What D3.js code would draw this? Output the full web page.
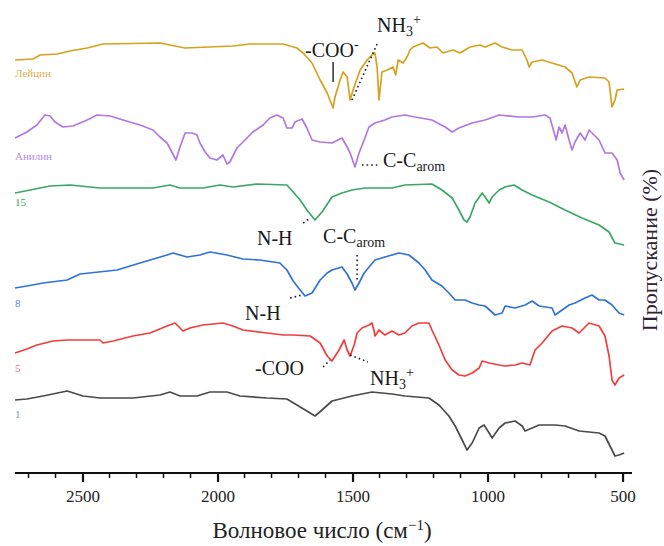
<!DOCTYPE html>
<html>
<head>
<meta charset="utf-8">
<script src="https://cdn.jsdelivr.net/npm/d3@7"></script>
<style>
  html, body { margin: 0; padding: 0; background: #fff; }
  svg { display: block; }
  svg text { font-family: "Liberation Serif", "DejaVu Serif", "Noto Serif", "Times New Roman", Times, serif; }
</style>
</head>
<body>
<svg id="chart" width="664" height="546"></svg>
<script>
// IR spectra, stacked with vertical offsets: [wavenumber (cm-1), transmittance (a.u., offset)]
const leucine = [
  [2750,413],[2683,414],[2657,418],[2594,419],[2546,422],[2483,425],[2424,429],[2213,430],
  [2139,426],[2120,425],[1943,427],[1880,429],[1757,429],[1706,425],[1683,420],[1650,410],
  [1620,393],[1594,380],[1572,365],[1565,376],[1546,393],[1535,401],[1520,396],[1509,373],
  [1498,383],[1472,403],[1446,413],[1428,418],[1417,420],[1409,406],[1402,373],[1391,401],
  [1372,403],[1350,406],[1340,398],[1331,413],[1313,410],[1298,416],[1287,423],[1276,426],
  [1239,430],[1213,425],[1187,426],[1165,420],[1128,423],[1102,420],[1065,426],[1028,428],
  [1009,426],[972,430],[946,426],[909,423],[872,423],[854,413],[846,406],[835,411],[798,413],
  [761,410],[713,406],[687,400],[669,386],[657,393],[624,396],[565,395],[550,391],[539,366],
  [528,373],[520,383],[494,384]
];
const aniline = [
  [2750,335],[2706,341],[2669,348],[2639,358],[2620,357],[2602,351],[2572,346],[2535,347],
  [2483,353],[2446,358],[2398,357],[2350,353],[2287,348],[2239,343],[2213,336],[2187,330],
  [2169,321],[2154,313],[2139,326],[2120,340],[2094,340],[2076,338],[2065,330],[2046,321],
  [2028,315],[2002,313],[1980,318],[1965,309],[1954,311],[1928,325],[1891,335],[1869,341],
  [1831,348],[1806,355],[1780,358],[1757,355],[1743,345],[1724,345],[1713,351],[1687,354],
  [1669,345],[1650,333],[1620,331],[1576,330],[1539,335],[1520,326],[1509,320],[1491,306],
  [1476,320],[1457,333],[1439,346],[1417,350],[1380,353],[1354,356],[1306,358],[1269,356],
  [1206,353],[1157,346],[1131,341],[1106,345],[1057,350],[1009,353],[957,358],[883,356],
  [835,356],[787,358],[769,355],[754,341],[746,333],[735,346],[724,340],[713,348],[698,333],
  [687,323],[676,331],[657,340],[639,333],[624,343],[613,340],[587,333],[565,320],[539,320],
  [520,313],[509,300],[494,293]
];
const sample15 = [
  [2750,280],[2694,283],[2620,287],[2546,288],[2435,285],[2239,285],[2176,288],[2139,285],
  [2054,285],[1991,288],[1943,286],[1854,289],[1743,288],[1720,281],[1694,273],[1669,263],
  [1639,253],[1613,261],[1576,276],[1539,280],[1502,283],[1454,285],[1354,285],[1306,288],
  [1206,289],[1169,283],[1131,275],[1106,263],[1087,253],[1076,251],[1065,256],[1046,270],
  [1020,280],[1009,276],[994,270],[983,276],[957,283],[935,286],[902,288],[872,283],[835,278],
  [772,271],[713,263],[650,255],[587,248],[550,241],[528,230],[494,228]
];
const sample8 = [
  [2750,185],[2706,187],[2646,190],[2557,193],[2509,199],[2372,203],[2287,210],[2187,218],
  [2165,220],[2113,216],[2065,218],[2028,221],[1965,218],[1906,214],[1843,213],[1769,210],
  [1743,203],[1720,192],[1694,183],[1676,177],[1650,180],[1620,193],[1594,200],[1576,203],
  [1539,206],[1520,199],[1502,190],[1491,183],[1476,190],[1457,200],[1417,213],[1380,216],
  [1328,220],[1291,218],[1254,210],[1231,203],[1206,193],[1169,187],[1143,180],[1120,173],
  [1083,173],[1057,170],[1031,168],[1009,167],[972,158],[946,160],[935,167],[898,165],
  [861,168],[835,172],[809,167],[761,165],[750,158],[724,163],[698,168],[676,170],[639,175],
  [613,178],[587,173],[565,173],[539,168],[513,160],[494,158]
];
const sample5 = [
  [2750,120],[2706,124],[2669,128],[2609,132],[2557,133],[2435,133],[2424,130],[2387,132],
  [2313,137],[2250,140],[2187,147],[2157,150],[2128,142],[2102,145],[2054,148],[1980,150],
  [1943,147],[1906,143],[1817,140],[1757,138],[1720,138],[1657,137],[1620,130],[1594,117],
  [1576,112],[1550,123],[1531,133],[1520,123],[1509,117],[1494,128],[1483,140],[1465,145],
  [1439,148],[1428,150],[1420,142],[1417,137],[1402,143],[1380,138],[1354,142],[1328,138],
  [1306,140],[1280,147],[1254,150],[1217,150],[1206,143],[1180,128],[1157,113],[1131,103],
  [1106,98],[1083,97],[1057,100],[1031,105],[1020,112],[994,110],[957,108],[935,107],
  [898,108],[872,110],[843,108],[824,123],[798,130],[761,142],[724,147],[687,145],[661,140],
  [624,150],[587,147],[565,137],[550,117],[539,93],[528,88],[513,95],[494,98]
];
const sample1 = [
  [2750,73],[2706,74],[2646,77],[2557,82],[2498,77],[2435,75],[2313,75],[2213,78],[2176,81],
  [2139,77],[2076,77],[2028,81],[1965,81],[1917,77],[1817,75],[1743,74],[1706,68],[1669,62],
  [1639,57],[1613,63],[1576,72],[1502,77],[1428,81],[1354,79],[1306,77],[1217,75],[1180,68],
  [1143,57],[1120,47],[1094,33],[1076,23],[1057,30],[1031,45],[1013,48],[994,40],[983,35],
  [957,45],[935,50],[898,52],[872,47],[861,42],[835,45],[809,48],[750,48],[713,47],[661,42],
  [587,40],[565,37],[539,23],[528,17],[513,18],[494,20]
];

const seriesNames = ["Лейцин", "Анилин", "15", "8", "5", "1"];
// where each series name sits: [wavenumber, value]
const seriesLabelPos = [[2750,396],[2750,313],[2750,267],[2750,166],[2750,101],[2750,55]];

const xMajorTicks = [2500, 2000, 1500, 1000, 500];
const xMinorTicks = [2700, 2600, 2400, 2300, 2200, 2100, 1900, 1800, 1700, 1600,
                     1400, 1300, 1200, 1100, 900, 800, 700, 600];

const xTitle = "Волновое число (см";
const yTitle = "Пропускание (%)";

// band assignments: text parts as [string, kind], kind: n = normal, sub, sup
const bandLabels = [
  { parts: [["-COO", "n"], ["-", "sup"]], at: [1676, 416] },
  { parts: [["NH", "n"], ["3", "sub"], ["+", "sup"]], at: [1409, 441] },
  { parts: [["C-C", "n"], ["arom", "sub"]], at: [1387, 306] },
  { parts: [["N-H", "n"]], at: [1854, 228] },
  { parts: [["C-C", "n"], ["arom", "sub"]], at: [1609, 230] },
  { parts: [["N-H", "n"]], at: [1898, 153] },
  { parts: [["-COO", "n"]], at: [1861, 98] },
  { parts: [["NH", "n"], ["3", "sub"], ["+", "sup"]], at: [1435, 88] }
];
// leader lines: [from, to, dotted?]
const leaders = [
  [[1572, 411], [1572, 391], false],
  [[1409, 429], [1502, 373], true],
  [[1465, 308], [1398, 308], true],
  [[1683, 250], [1661, 254], true],
  [[1483, 218], [1483, 193], true],
  [[1731, 175], [1687, 178], true],
  [[1609, 106], [1583, 113], true],
  [[1509, 118], [1443, 111], true]
];

const svg = d3.select("#chart");

const x = d3.scaleLinear().domain([2750, 465]).range([15, 632]);
const y = d3.scaleLinear().domain([0, 460]).range([473, 13]);

const colors = ["#d6a21e", "#b377e0", "#3aa865", "#2f72d8", "#f23d3d", "#4a4a4a"];
const labelColors = ["#d9b04a", "#b889e6", "#4aa070", "#6878e8", "#f06a88", "#7a9ad8"];
const series = [leucine, aniline, sample15, sample8, sample5, sample1];

const line = d3.line().x(d => x(d[0])).y(d => y(d[1]));

series.forEach((s, i) => {
  svg.append("path")
    .datum(s)
    .attr("fill", "none")
    .attr("stroke", colors[i])
    .attr("stroke-width", 1.7)
    .attr("stroke-linejoin", "round")
    .attr("d", line);
});

// series names under each trace
seriesNames.forEach((name, i) => {
  svg.append("text")
    .attr("x", x(seriesLabelPos[i][0]))
    .attr("y", y(seriesLabelPos[i][1]))
    .attr("font-size", 11)
    .attr("fill", labelColors[i])
    .text(name);
});

// x axis
const axisG = svg.append("g").attr("transform", `translate(0,${y(0)})`);
axisG.call(d3.axisBottom(x).tickValues(xMajorTicks).tickSize(9).tickPadding(8).tickFormat(d3.format("d")));
axisG.attr("font-family", null);
axisG.select(".domain").attr("stroke", "#111").attr("stroke-width", 2).attr("d", `M${x(2750)},0H${x(465)}`);
axisG.selectAll(".tick line").attr("stroke", "#111").attr("stroke-width", 2.2);
axisG.selectAll(".tick text").attr("font-size", 17).attr("fill", "#222");
axisG.selectAll(".minor")
  .data(xMinorTicks).enter().append("line")
  .attr("x1", d => x(d)).attr("x2", d => x(d))
  .attr("y1", 0).attr("y2", 5)
  .attr("stroke", "#111").attr("stroke-width", 1.5);

// axis titles
const xt = svg.append("text")
  .attr("x", 322).attr("y", 538)
  .attr("text-anchor", "middle")
  .attr("font-size", 23).attr("fill", "#222");
xt.append("tspan").text(xTitle);
xt.append("tspan").attr("baseline-shift", "super").attr("font-size", 15).text("−1");
xt.append("tspan").text(")");

svg.append("text")
  .attr("transform", `translate(657,${250}) rotate(-90)`)
  .attr("text-anchor", "middle")
  .attr("font-size", 22).attr("fill", "#2e2236")
  .text(yTitle);

// band assignment labels
bandLabels.forEach(b => {
  const t = svg.append("text")
    .attr("x", x(b.at[0])).attr("y", y(b.at[1]))
    .attr("font-size", 20).attr("fill", "#1a1a1a");
  b.parts.forEach(p => {
    const ts = t.append("tspan").text(p[0]);
    if (p[1] === "sub") ts.attr("baseline-shift", "-30%").attr("font-size", 14);
    if (p[1] === "sup") ts.attr("baseline-shift", "55%").attr("font-size", 14);
  });
});

leaders.forEach(l => {
  svg.append("line")
    .attr("x1", x(l[0][0])).attr("y1", y(l[0][1]))
    .attr("x2", x(l[1][0])).attr("y2", y(l[1][1]))
    .attr("stroke", "#222")
    .attr("stroke-width", l[2] ? 1.6 : 1.4)
    .attr("stroke-dasharray", l[2] ? "1.6,3" : null);
});
</script>
</body>
</html>
